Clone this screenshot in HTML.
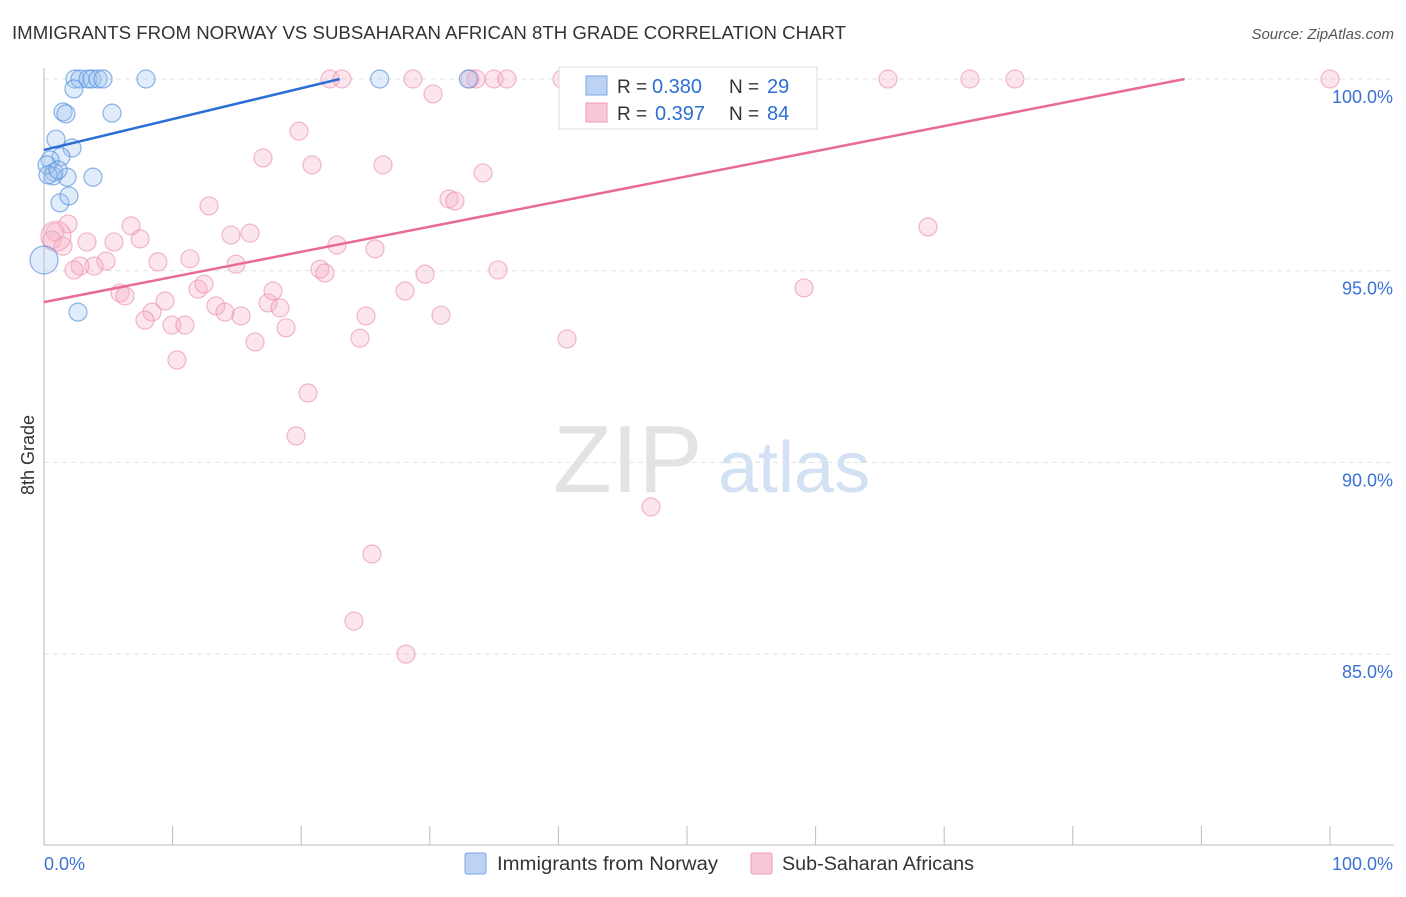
<!DOCTYPE html>
<html><head><meta charset="utf-8"><style>
body{margin:0;background:#fff;font-family:"Liberation Sans",sans-serif}
svg text{font-family:"Liberation Sans",sans-serif}
</style></head><body>
<svg id="c" width="1406" height="892">
<text x="12" y="39" font-size="18" fill="#333" textLength="834" lengthAdjust="spacingAndGlyphs">IMMIGRANTS FROM NORWAY VS SUBSAHARAN AFRICAN 8TH GRADE CORRELATION CHART</text>
<text x="1394" y="39" font-size="15" fill="#555" text-anchor="end" font-style="italic">Source: ZipAtlas.com</text>
<text x="34" y="455" font-size="18" fill="#333" text-anchor="middle" transform="rotate(-90 34 455)">8th Grade</text>
<text x="553" y="492" font-size="96" fill="#e3e3e3" font-family="Liberation Serif">ZIP</text>
<text x="718" y="492" font-size="72" fill="#d3e1f4">atlas</text>
<g id="grid"></g><g id="ax"></g><g id="pts"></g><g id="lines"></g>
<g>
<rect x="559" y="67" width="258" height="62" fill="#fff" stroke="#ddd"/>
<rect x="586" y="76" width="21" height="19" fill="#bcd3f3" stroke="#7aa6e6"/>
<rect x="586" y="103" width="21" height="19" fill="#f9c8d6" stroke="#ee9ab4"/>
<text x="617" y="93" font-size="19" fill="#333">R =</text>
<text x="652" y="93" font-size="20" fill="#2d6fd0">0.380</text>
<text x="729" y="93" font-size="19" fill="#333">N =</text>
<text x="767" y="93" font-size="20" fill="#2d6fd0">29</text>
<text x="617" y="120" font-size="19" fill="#333">R =</text>
<text x="655" y="120" font-size="20" fill="#2d6fd0">0.397</text>
<text x="729" y="120" font-size="19" fill="#333">N =</text>
<text x="767" y="120" font-size="20" fill="#2d6fd0">84</text>
</g>
<g>
<rect x="465" y="853" width="21" height="21" fill="#bcd3f3" stroke="#7aa6e6" rx="2"/>
<text x="497" y="870" font-size="19" fill="#333" textLength="221" lengthAdjust="spacingAndGlyphs">Immigrants from Norway</text>
<rect x="751" y="853" width="21" height="21" fill="#f9c8d6" stroke="#ee9ab4" rx="2"/>
<text x="782" y="870" font-size="19" fill="#333" textLength="192" lengthAdjust="spacingAndGlyphs">Sub-Saharan Africans</text>
</g>
</svg>
<script>
const yTicks=[100,95,90,85];
const yTickLabels=["100.0%","95.0%","90.0%","85.0%"];
const xTickLabels=["0.0%","100.0%"];
const blueX=[2.41,2.8,3.42,3.73,4.2,4.59,7.93,26.1,33.0,2.33,1.48,1.71,5.29,0.93,2.18,1.32,0.47,0.78,1.79,3.81,0.7,1.24,1.94,0.23,0,2.64,0.31,1.09];
const blueY=[100,100,100,100,100,100,100,100,100,99.74,99.14,99.09,99.11,98.43,98.2,97.97,97.89,97.57,97.44,97.44,97.47,96.77,96.95,97.76,95.28,93.92,97.5,97.63];
const pinkX=[22.24,23.17,28.69,33.13,33.59,34.99,36.0,40.28,46.19,52.41,65.63,72.0,75.5,100,41.68,30.25,19.83,17.03,20.84,26.36,34.14,31.49,31.96,12.83,6.77,1.87,0.86,0.62,1.48,3.34,5.44,7.47,14.54,16.02,22.78,25.74,8.86,11.35,4.82,3.89,2.8,2.33,14.93,21.46,21.85,29.63,35.3,68.74,59.1,5.91,6.3,9.41,11.98,12.44,13.37,17.42,17.81,18.35,14.07,15.32,8.4,7.85,9.95,10.96,18.82,25.04,30.87,28.07,24.57,16.41,10.34,40.67,20.53,19.6,47.2,25.5,24.1,28.15,0.93];
const pinkY=[100,100,100,100,100,100,100,100,100,100,100,100,100,100,99.14,99.61,98.64,97.94,97.76,97.76,97.55,96.87,96.82,96.69,96.17,96.22,96.01,95.8,95.64,95.75,95.75,95.83,95.93,95.98,95.67,95.57,95.23,95.31,95.25,95.12,95.12,95.02,95.17,95.04,94.94,94.91,95.02,96.14,94.55,94.42,94.34,94.21,94.52,94.65,94.08,94.16,94.47,94.03,93.92,93.82,93.92,93.71,93.58,93.58,93.51,93.82,93.84,94.47,93.24,93.14,92.67,93.22,91.81,90.69,88.84,87.61,85.86,85.0,95.9];
const blueLine=[[0,98.15],[23.0,100]];
const pinkLine=[[0,94.18],[88.7,100]];
const X=v=>44+v*12.86, Y=v=>79+(100-v)*38.34;
const NS="http://www.w3.org/2000/svg";
function mk(t,a,p){const e=document.createElementNS(NS,t);for(const k in a)e.setAttribute(k,a[k]);p.appendChild(e);return e;}
const g=document.getElementById('grid'),ax=document.getElementById('ax'),pts=document.getElementById('pts'),ln=document.getElementById('lines');
yTicks.forEach((t,i)=>{
 const l=mk('line',{x1:44,x2:1394,y1:Y(t),y2:Y(t),stroke:'#e2e2e2','stroke-dasharray':'5,4'},g);
 
 
 const tx=mk('text',{x:1393,y:Y(t)+24,'font-size':18,fill:'#3a72d4','text-anchor':'end'},ax);tx.textContent=yTickLabels[i];
 
 
});
mk('line',{x1:44,x2:44,y1:68,y2:845,stroke:'#bbb'},ax);
mk('line',{x1:44,x2:1394,y1:845,y2:845,stroke:'#bbb'},ax);
for(let i=0;i<=10;i++){const l=mk('line',{x1:X(i*10),x2:X(i*10),y1:826,y2:845,stroke:'#bbb'},ax);
 
 }
[[0,44,'start'],[1,1393,'end']].forEach(([i,x,a])=>{const t=mk('text',{x:x,y:870,'font-size':18,fill:'#3a72d4','text-anchor':a},ax);t.textContent=xTickLabels[i];
 
 });
pinkX.forEach((v,i)=>{const c=mk('circle',{cx:X(v),cy:Y(pinkY[i]),r:i==pinkX.length-1?15:9,fill:'rgba(246,175,197,0.33)',stroke:'rgba(234,140,170,0.6)','stroke-width':1.2},pts);
 
 });
blueX.forEach((v,i)=>{const c=mk('circle',{cx:X(v),cy:Y(blueY[i]),r:v===0?14:9,fill:'rgba(160,196,240,0.33)',stroke:'rgba(80,140,222,0.65)','stroke-width':1.2},pts);
 
 });
const bl=mk('line',{x1:X(blueLine[0][0]),y1:Y(blueLine[0][1]),x2:X(blueLine[1][0]),y2:Y(blueLine[1][1]),stroke:'#2a6fd6','stroke-width':2.5},ln);


const pl=mk('line',{x1:X(pinkLine[0][0]),y1:Y(pinkLine[0][1]),x2:X(pinkLine[1][0]),y2:Y(pinkLine[1][1]),stroke:'#e8699a','stroke-width':2.5},ln);


</script>
</body></html>
